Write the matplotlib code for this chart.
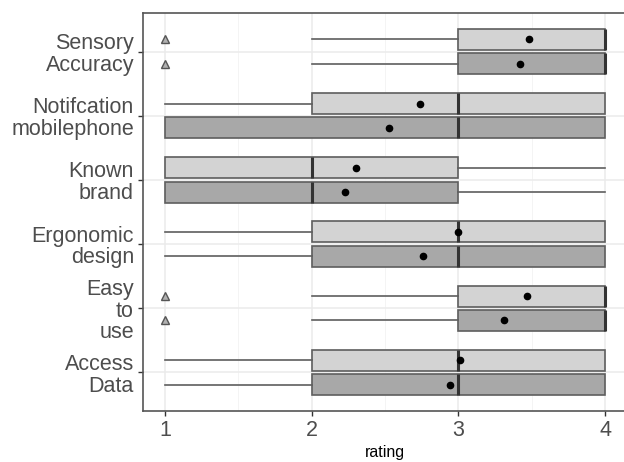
import matplotlib
matplotlib.use("Agg")
import matplotlib.pyplot as plt
import numpy as np

plt.rcParams['font.family'] = ['Liberation Sans', 'DejaVu Sans']

# Categories (top to bottom as shown)
categories = ["Sensory\nAccuracy", "Notifcation\nmobilephone", "Known\nbrand",
              "Ergonomic\ndesign", "Easy\nto\nuse", "Access\nData"]

# Light series (upper box of each pair)
light_whislo = [2, 1, 1, 1, 2, 1]
light_q1     = [3, 2, 1, 2, 3, 2]
light_med    = [4, 3, 2, 3, 4, 3]
light_q3     = [4, 4, 3, 4, 4, 4]
light_whishi = [4, 4, 4, 4, 4, 4]
light_mean   = [3.48, 2.74, 2.30, 3.00, 3.47, 3.01]
light_fliers = [[1], [], [], [], [1], []]

# Dark series (lower box of each pair)
dark_whislo = [2, 1, 1, 1, 2, 1]
dark_q1     = [3, 1, 1, 2, 3, 2]
dark_med    = [4, 3, 2, 3, 4, 3]
dark_q3     = [4, 4, 3, 4, 4, 4]
dark_whishi = [4, 4, 4, 4, 4, 4]
dark_mean   = [3.42, 2.53, 2.23, 2.76, 3.31, 2.94]
dark_fliers = [[1], [], [], [], [1], []]

x_ticks = [1, 2, 3, 4]
x_label = "rating"

W, H = 624, 462
fig = plt.figure(figsize=(W / 100, H / 100), dpi=100)
left, right, top, bottom = 143, 627, 13, 411
ax = fig.add_axes([left / W, (H - bottom) / H, (right - left) / W, (bottom - top) / H])

n = len(categories)
pos = np.arange(n, 0, -1)  # top category gets highest y
off = 0.19
bw = 0.33

def stats(wl, q1, md, q3, wh, mn, fl):
    return [dict(whislo=a, q1=b, med=c, q3=d, whishi=e, mean=f, fliers=g)
            for a, b, c, d, e, f, g in zip(wl, q1, md, q3, wh, mn, fl)]

edge = "#5e5e5e"
for st, p, fc in [
    (stats(light_whislo, light_q1, light_med, light_q3, light_whishi, light_mean, light_fliers), pos + off, "#D3D3D3"),
    (stats(dark_whislo, dark_q1, dark_med, dark_q3, dark_whishi, dark_mean, dark_fliers), pos - off, "#A8A8A8"),
]:
    ax.bxp(st, positions=p, widths=bw, vert=False, patch_artist=True,
           showcaps=False, showmeans=True, manage_ticks=False,
           boxprops=dict(facecolor=fc, edgecolor=edge, linewidth=1.2),
           whiskerprops=dict(color=edge, linewidth=1.2),
           medianprops=dict(color="#333333", linewidth=2.2),
           meanprops=dict(marker="o", markerfacecolor="black", markeredgecolor="black", markersize=4.5),
           flierprops=dict(marker="^", markerfacecolor="#b0b0b0", markeredgecolor="#555555",
                           markersize=5.5, markeredgewidth=1.0),
           zorder=3)

ax.set_xlim(0.85, 4.15)
ax.set_ylim(0.4, n + 0.6)
ax.set_xticks(x_ticks)
ax.set_xticklabels([str(t) for t in x_ticks])
ax.set_xticks([1.5, 2.5, 3.5], minor=True)
ax.set_yticks(pos)
ax.set_yticklabels(categories, linespacing=1.05)

ax.grid(True, which="major", color="#EBEBEB", linewidth=1.1, zorder=0)
ax.grid(True, which="minor", axis="x", color="#F2F2F2", linewidth=0.6, zorder=0)
ax.set_axisbelow(True)

ax.tick_params(axis="both", which="major", labelsize=15.5, labelcolor="#4D4D4D",
               color="#333333", length=3.5, width=1)
ax.tick_params(axis="x", which="major", pad=3)
ax.tick_params(axis="y", which="major", pad=3)
ax.tick_params(which="minor", length=0)
for s in ax.spines.values():
    s.set_color("#555555")
    s.set_linewidth(1.2)
ax.spines["right"].set_visible(False)

ax.set_xlabel(x_label, fontsize=11.5, color="black", labelpad=3)

fig.savefig("out.png", dpi=100)
